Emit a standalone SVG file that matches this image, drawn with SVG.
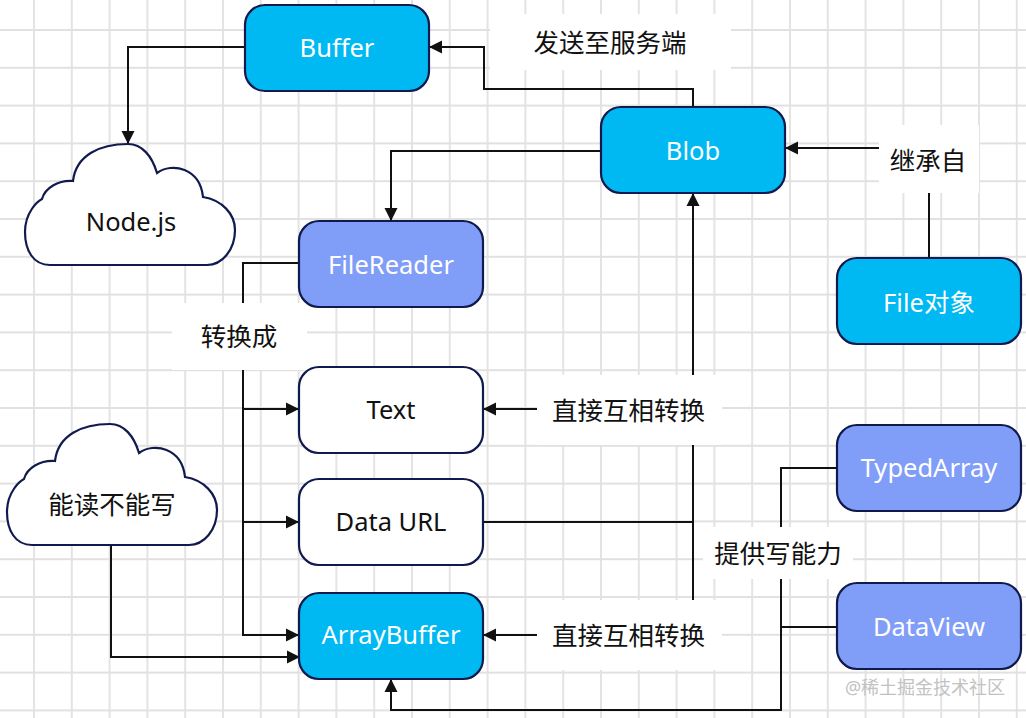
<svg xmlns="http://www.w3.org/2000/svg" xmlns:xlink="http://www.w3.org/1999/xlink" width="1026" height="718" viewBox="0 0 1026 718">
  <style>
    .box { stroke: #111a4d; stroke-width: 2.2; }
    .cyan { fill: #00b9f2; }
    .blue { fill: #809df8; }
    .plain { fill: #ffffff; }
    .cloud { fill: #ffffff; stroke: #111a4d; stroke-width: 2.2; }
    .t { font-family: "Noto Sans", "Noto Sans CJK SC", sans-serif; font-size: 25.5px; text-anchor: middle; }
    .w { fill: #ffffff; }
    .k { fill: #111111; }
    .edge { fill: none; stroke: #111111; stroke-width: 2; }
    .lbg { fill: #ffffff; }
    .wm { font-family: "Noto Sans", "Noto Sans CJK SC", sans-serif; font-size: 18px; fill: #c2c2c2; text-anchor: middle; }
  </style>
  <defs>
    <pattern id="grid" patternUnits="userSpaceOnUse" x="15.1" y="11.1" width="37.8" height="37.8">
      <path d="M0 18.9 H37.8 M18.9 0 V37.8" stroke="#e1e1e1" stroke-width="1.8" fill="none"/>
    </pattern>
    <marker id="arr" markerUnits="userSpaceOnUse" markerWidth="14" markerHeight="14" refX="13" refY="6.5" orient="auto-start-reverse" viewBox="0 0 14 13">
      <path d="M0 0 L13 6.5 L0 13 Z" fill="#111111"/>
    </marker>
    <path id="cloudShape" d="M 50 265 C 33 265 25 250 25 232 C 25 212 38 201 42 199 C 45 188 58 180 73 181 C 76 155 100 144 128 144 C 142 144 152 156 157 173 C 172 162 200 168 203 197 C 222 200 235 214 235 230 C 235 250 222 265 207 265 Z"/>
  </defs>

  <rect width="1026" height="718" fill="#ffffff"/>
  <rect width="1026" height="718" fill="url(#grid)"/>

  <g id="connectors">
    <path class="edge" d="M 245 47 H 128 V 144" marker-end="url(#arr)"/>
    <path class="edge" d="M 693 107 V 89 H 484 V 47 H 429" marker-end="url(#arr)"/>
    <path class="edge" d="M 601 151 H 391 V 221" marker-end="url(#arr)"/>
    <path class="edge" d="M 929 258 V 148 H 785" marker-end="url(#arr)"/>
    <path class="edge" d="M 299 263 H 243 V 635 H 299" marker-end="url(#arr)"/>
    <path class="edge" d="M 243 409 H 299" marker-end="url(#arr)"/>
    <path class="edge" d="M 243 522 H 299" marker-end="url(#arr)"/>
    <path class="edge" d="M 693 193 V 409 H 483" marker-start="url(#arr)" marker-end="url(#arr)"/>
    <path class="edge" d="M 693 400 V 635 H 483" marker-end="url(#arr)"/>
    <path class="edge" d="M 483 522 H 693"/>
    <path class="edge" d="M 111 545 V 657 H 300" marker-end="url(#arr)"/>
    <path class="edge" d="M 837 468 H 781 V 710 H 391 V 679" marker-end="url(#arr)"/>
    <path class="edge" d="M 837 627 H 781"/>
  </g>

  <g id="labels">
    <g id="label-send">
      <rect class="lbg" x="490" y="14" width="241" height="56"/>
      <text class="t k" x="610" y="51.5">发送至服务端</text>
    </g>
    <g id="label-inherit">
      <rect class="lbg" x="879" y="125" width="100" height="68"/>
      <text class="t k" x="928" y="169.5">继承自</text>
    </g>
    <g id="label-convert">
      <rect class="lbg" x="172" y="303" width="135" height="67"/>
      <text class="t k" x="239" y="346">转换成</text>
    </g>
    <g id="label-direct1">
      <rect class="lbg" x="537" y="375" width="185" height="70"/>
      <text class="t k" x="628.5" y="419.5">直接互相转换</text>
    </g>
    <g id="label-write">
      <rect class="lbg" x="703" y="527" width="150" height="52"/>
      <text class="t k" x="778" y="562.5">提供写能力</text>
    </g>
    <g id="label-direct2">
      <rect class="lbg" x="537" y="600" width="185" height="70"/>
      <text class="t k" x="628.5" y="644.5">直接互相转换</text>
    </g>
  </g>

  <g id="node-buffer">
    <rect class="box cyan" x="245" y="5" width="184" height="86" rx="20"/>
    <text class="t w" x="337" y="57">Buffer</text>
  </g>
  <g id="node-blob">
    <rect class="box cyan" x="601" y="107" width="184" height="86" rx="20"/>
    <text class="t w" x="693" y="160">Blob</text>
  </g>
  <g id="node-nodejs">
    <use href="#cloudShape" xlink:href="#cloudShape" class="cloud"/>
    <text class="t k" x="131" y="231">Node.js</text>
  </g>
  <g id="node-filereader">
    <rect class="box blue" x="299" y="221" width="184" height="86" rx="20"/>
    <text class="t w" x="391" y="274">FileReader</text>
  </g>
  <g id="node-file">
    <rect class="box cyan" x="837" y="258" width="184" height="86" rx="20"/>
    <text class="t w" x="929" y="312">File对象</text>
  </g>
  <g id="node-text">
    <rect class="box plain" x="299" y="367" width="184" height="86" rx="20"/>
    <text class="t k" x="391" y="419">Text</text>
  </g>
  <g id="node-dataurl">
    <rect class="box plain" x="299" y="479" width="184" height="86" rx="20"/>
    <text class="t k" x="391" y="531">Data URL</text>
  </g>
  <g id="node-arraybuffer">
    <rect class="box cyan" x="299" y="593" width="184" height="86" rx="20"/>
    <text class="t w" x="391" y="644">ArrayBuffer</text>
  </g>
  <g id="node-typedarray">
    <rect class="box blue" x="837" y="425" width="184" height="86" rx="20"/>
    <text class="t w" x="929" y="477">TypedArray</text>
  </g>
  <g id="node-dataview">
    <rect class="box blue" x="837" y="583" width="184" height="86" rx="20"/>
    <text class="t w" x="929" y="636">DataView</text>
  </g>
  <g id="node-readonly">
    <use href="#cloudShape" xlink:href="#cloudShape" class="cloud" transform="translate(-18 280)"/>
    <text class="t k" x="112" y="513.5">能读不能写</text>
  </g>

  <text class="wm" x="925" y="694">@稀土掘金技术社区</text>
</svg>
